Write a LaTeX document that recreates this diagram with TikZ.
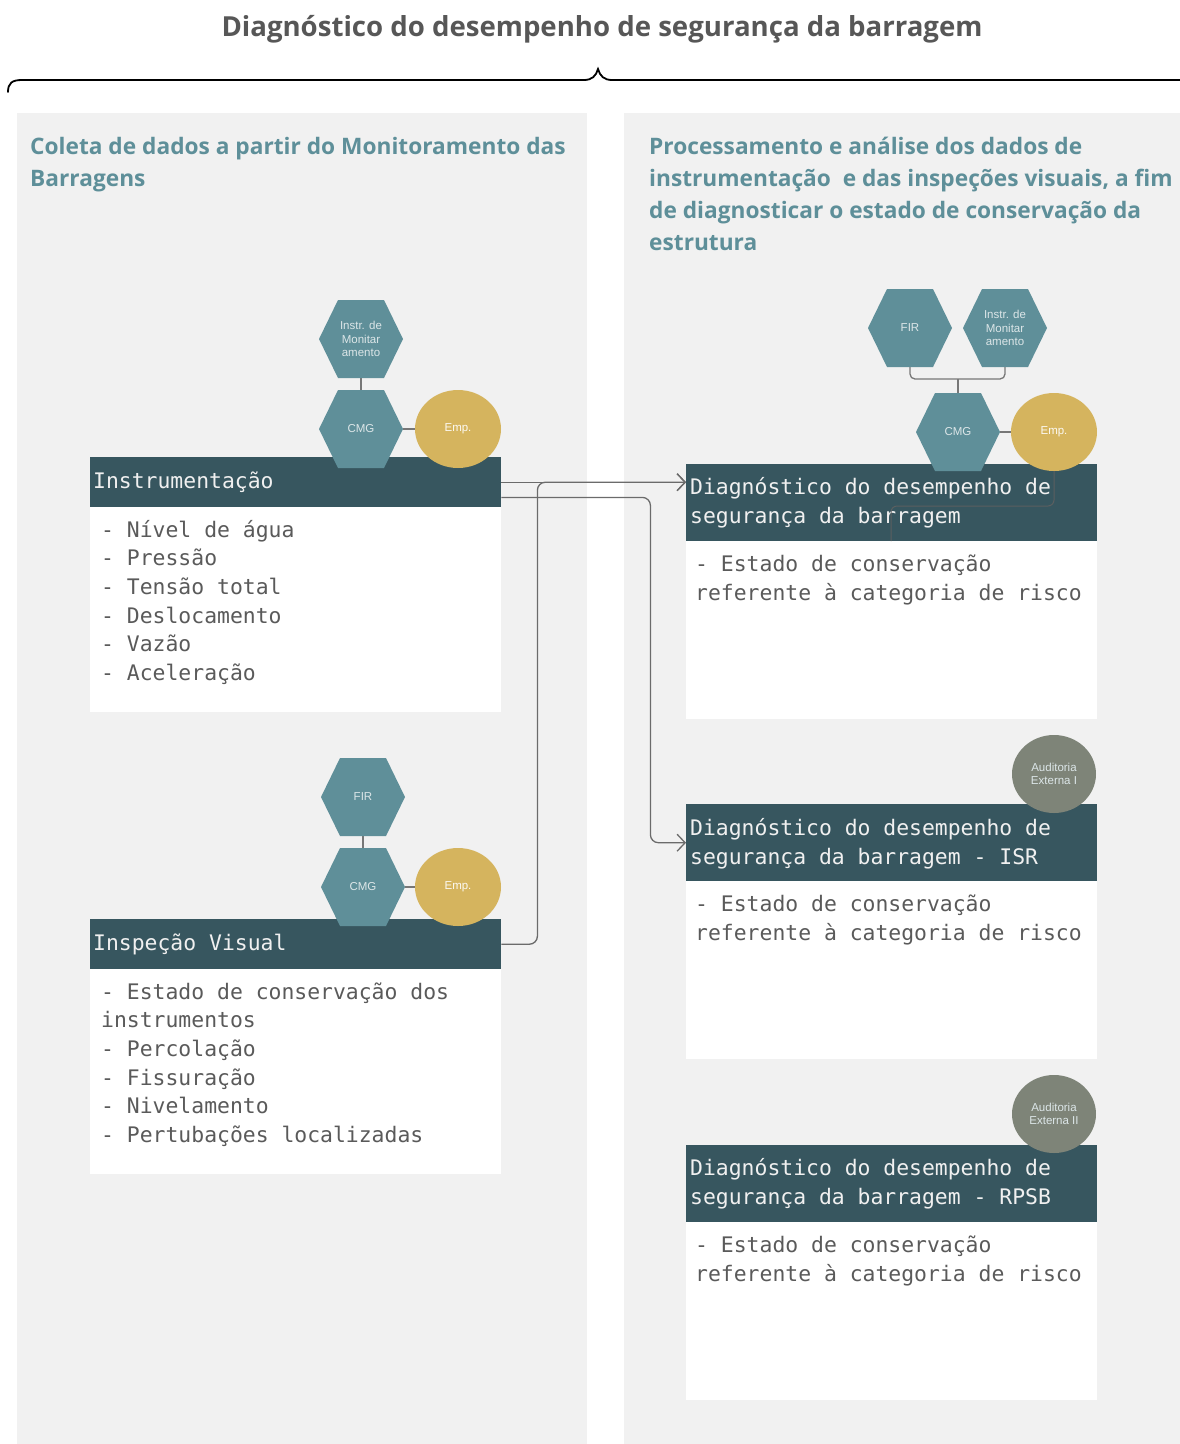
\documentclass[tikz,border=0pt]{standalone}
\usepackage{fontspec}
\setmainfont{Open Sans}
\newfontfamily\monof{DejaVu Sans Mono}
\newfontfamily\labf{Liberation Sans}
\usetikzlibrary{arrows.meta,shapes.geometric}

\definecolor{panelbg}{HTML}{F1F1F1}
\definecolor{hdrbg}{HTML}{37565F}
\definecolor{hexbg}{HTML}{5F8F99}
\definecolor{hexfg}{HTML}{DCE6E8}
\definecolor{goldbg}{HTML}{D5B45E}
\definecolor{auditbg}{HTML}{7E8478}
\definecolor{headtxt}{HTML}{5E8F99}
\definecolor{titletxt}{HTML}{575757}
\definecolor{bodytxt}{HTML}{5A5A5A}
\definecolor{linec}{HTML}{777777}
\definecolor{hidc}{HTML}{5B5F60}

\tikzset{
  hexlab/.style={minimum width=84pt, minimum height=78pt, inner sep=0pt, align=center,
    text=hexfg, font=\labf\fontsize{11.5}{13.3}\selectfont},
  bubble/.style={ellipse, minimum width=86pt, minimum height=78pt, inner sep=0pt,
    text=hexfg, font=\labf\fontsize{11.5}{13.3}\selectfont, align=center},
  empb/.style={bubble, fill=goldbg, text=white!92!goldbg},
  auditb/.style={bubble, fill=auditbg, minimum width=84pt},
  hdrbox/.style={fill=hdrbg, anchor=north west, inner sep=0pt, minimum width=411pt},
  bodybox/.style={fill=white, anchor=north west, inner sep=0pt, minimum width=411pt},
  hdrtext/.style={anchor=base west, inner sep=0pt, text=white!94!black,
    font=\monof\fontsize{21.4}{28.7}\selectfont},
  bodytext/.style={anchor=base west, inner sep=0pt, text=bodytxt,
    font=\monof\fontsize{21.4}{28.7}\selectfont},
  headline/.style={anchor=base west, inner sep=0pt, text=headtxt,
    font=\fontsize{22.7}{32}\selectfont\bfseries},
  link/.style={draw=linec, line width=1.3pt},
  flow/.style={draw=linec!90!black, line width=1.3pt, rounded corners=8pt,
    -{Straight Barb[length=8pt,width=17pt,line width=1.3pt]}},
  hidden/.style={draw=hidc, line width=1pt, rounded corners=6pt},
}

% hexagon with flat top and bottom, plus a named label node
\newcommand\hexat[4]{%
  \fill[hexbg] (#2-42,#3) -- (#2-23,#3-39) -- (#2+23,#3-39) -- (#2+42,#3)
    -- (#2+23,#3+39) -- (#2-23,#3+39) -- cycle;
  \node[hexlab] (#1) at (#2,#3) {#4};}

\begin{document}
\begin{tikzpicture}[x=1pt,y=-1pt]
\useasboundingbox (0,0) rectangle (1180,1444);
\fill[white] (0,0) rectangle (1180,1444);

% two column panels
\fill[panelbg] (17,113) rectangle (587,1444);
\fill[panelbg] (624,113) rectangle (1180,1444);

% title and brace
\node[anchor=base, inner sep=0pt, text=titletxt, font=\fontsize{27.6}{32}\selectfont\bfseries]
  (title) at (602,36) {Diagnóstico do desempenho de segurança da barragem};
\draw[line width=1.8pt, line cap=round]
  (8,92) .. controls (8,83) and (12,80) .. (22,80) -- (584,80)
  .. controls (592,80) and (596,76) .. (598,69)
  .. controls (600,76) and (604,80) .. (612,80) -- (1180,80);

% column headings
\foreach \t [count=\i from 0] in {Coleta de dados a partir do Monitoramento das, Barragens}
  \node[headline] at (30,154+32*\i) {\t};
\foreach \t [count=\i from 0] in {Processamento e análise dos dados de,
    {instrumentação \ e das inspeções visuais, a fim},
    de diagnosticar o estado de conservação da, estrutura}
  \node[headline] at (649,154+32*\i) {\t};

% left cards
\node[hdrbox, minimum height=50pt] (inst) at (90,457) {};
\node[bodybox, minimum height=205pt] (instb) at (90,507) {};
\node[hdrtext] at (93,488) {Instrumentação};
\foreach \t [count=\i from 0] in {- Nível de água, - Pressão, - Tensão total,
    - Deslocamento, - Vazão, - Aceleração}
  \node[bodytext] at (101,537+28.7*\i) {\t};

\node[hdrbox, minimum height=50pt] (insp) at (90,919) {};
\node[bodybox, minimum height=205pt] (inspb) at (90,969) {};
\node[hdrtext] at (93,950) {Inspeção Visual};
\foreach \t [count=\i from 0] in {- Estado de conservação dos, instrumentos, - Percolação,
    - Fissuração, - Nivelamento, - Pertubações localizadas}
  \node[bodytext] at (101,999+28.7*\i) {\t};

% right cards
\node[hdrbox, minimum height=77pt] (d1) at (686,464) {};
\node[bodybox, minimum height=178pt] (d1b) at (686,541) {};
\node[hdrtext] at (690,494) {Diagnóstico do desempenho de};
\node[hdrtext] at (690,523) {segurança da barragem};
\node[bodytext] at (695,571) {- Estado de conservação};
\node[bodytext] at (695,600) {referente à categoria de risco};

\node[hdrbox, minimum height=77pt] (d2) at (686,804) {};
\node[bodybox, minimum height=178pt] (d2b) at (686,881) {};
\node[hdrtext] at (690,835) {Diagnóstico do desempenho de};
\node[hdrtext] at (690,864) {segurança da barragem - ISR};
\node[bodytext] at (695,911) {- Estado de conservação};
\node[bodytext] at (695,940) {referente à categoria de risco};

\node[hdrbox, minimum height=77pt] (d3) at (686,1145) {};
\node[bodybox, minimum height=178pt] (d3b) at (686,1222) {};
\node[hdrtext] at (690,1175) {Diagnóstico do desempenho de};
\node[hdrtext] at (690,1204) {segurança da barragem - RPSB};
\node[bodytext] at (695,1252) {- Estado de conservação};
\node[bodytext] at (695,1281) {referente à categoria de risco};

% flows between the cards
\draw[flow] (insp.east) -- ++(36,0) |- (inst.east -| d1.west);
\draw[flow] (inst.east) -- (inst.east -| d1.west);
\draw[flow] ([yshift=10pt]inst.south east) -- ++(149,0) |- (d2.west);

% link running under the first diagnosis header
\coordinate (hidend) at (891,541);
\draw[hidden] (1054,470) -- ++(0,36) -| (hidend);

% responsibility links
\draw[link] (361,378) -- (361,391);
\draw[link] (403,429) -- (416,429);
\draw[link] (363,835) -- (363,849);
\draw[link] (405,887) -- (416,887);
\draw[link, rounded corners=5pt] (910,367) -- (910,379) -- (1005,379) -- (1005,367);
\draw[link] (958,379) -- (958,393);
\draw[link] (1000,432) -- (1012,432);

% hexagons and bubbles
\hexat{im1}{361}{339}{Instr. de\\Monitar\\amento}
\hexat{cmg1}{361}{429}{CMG}
\node[empb] (emp1) at (458,429) {Emp.};

\hexat{fir1}{363}{797}{FIR}
\hexat{cmg2}{363}{887}{CMG}
\node[empb] (emp2) at (458,887) {Emp.};

\hexat{fir2}{910}{328}{FIR}
\hexat{im2}{1005}{328}{Instr. de\\Monitar\\amento}
\hexat{cmg3}{958}{432}{CMG}
\node[empb] (emp3) at (1054,432) {Emp.};

\node[auditb] (aud1) at (1054,774) {Auditoria\\Externa I};
\node[auditb] (aud2) at (1054,1114) {Auditoria\\Externa II};
\end{tikzpicture}
\end{document}
